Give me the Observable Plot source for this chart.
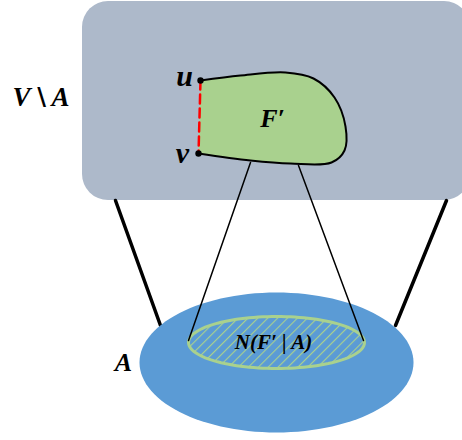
<!DOCTYPE html>
<html><head><meta charset="utf-8">
<script src="https://cdn.jsdelivr.net/npm/d3@7"></script>
<script src="https://cdn.jsdelivr.net/npm/@observablehq/plot@0.6"></script>
<style>body{margin:0;background:#fff}</style>
</head><body><div id="chart"></div>
<script>
const outerRegion = [{x1: 82, y1: 1, x2: 470, y2: 200}];
const faceOutline = [[200,80],[240,75],[285,72],[313,78],[334,97],[345,126],[344,150],[331,162],[290,163],[250,160],[198,153]];
const faceEdge = [[200,80],[198,153]];
const vertices = [{label:"u", x:200, y:80, lx:184, ly:76}, {label:"v", x:198, y:153, lx:182, ly:153}];
const connectors = [[[250,162],[188,340]], [[298,165],[363,340]]];
const thickConnectors = [[[115,200],[160,325]], [[446,200],[395,325]]];
const ellipses = [{name:"A", cx:276, cy:362, rx:137, ry:70}, {name:"N", cx:276, cy:342, rx:88, ry:26}];
const labels = [
  {text:"V", x:21, y:97, size:27, italic:true},
  {text:"\\", x:41, y:97, size:24, italic:false},
  {text:"A", x:60, y:97, size:27, italic:true},
  {text:"F′", x:272, y:118, size:26, italic:true},
  {text:"N(F′ | A)", x:273, y:342, size:21, italic:true},
  {text:"A", x:123, y:362, size:26, italic:true}
];

function ellipsePts(e) {
  const pts = [];
  for (let i = 0; i <= 120; i++) {
    const t = (i / 120) * 2 * Math.PI;
    pts.push([e.cx + e.rx * Math.cos(t), e.cy + e.ry * Math.sin(t)]);
  }
  return pts;
}
const outerE = ellipsePts(ellipses[0]);
const innerE = ellipsePts(ellipses[1]);

const font = "Liberation Serif";
const plot = Plot.plot({
  width: 462, height: 440,
  margin: 0,
  x: {domain: [0, 462], range: [0, 462], axis: null},
  y: {domain: [0, 440], range: [0, 440], axis: null},
  marks: [
    Plot.rect(outerRegion, {x1:"x1", y1:"y1", x2:"x2", y2:"y2", fill:"#adb9ca", rx: 26}),
    ...thickConnectors.map(c => Plot.line(c, {x: d=>d[0], y: d=>d[1], stroke:"black", strokeWidth:3.5})),
    Plot.line(outerE, {x: d=>d[0], y: d=>d[1], fill:"#5b9bd5", stroke:"none"}),
    Plot.line(innerE, {x: d=>d[0], y: d=>d[1], fill:"url(#hatch)", stroke:"#a9d18e", strokeWidth:3}),
    ...connectors.map(c => Plot.line(c, {x: d=>d[0], y: d=>d[1], stroke:"black", strokeWidth:1.5})),
    Plot.line(faceOutline, {x: d=>d[0], y: d=>d[1], curve:"catmull-rom", fill:"#a9d18e", stroke:"black", strokeWidth:2}),
    Plot.line(faceEdge, {x: d=>d[0], y: d=>d[1], stroke:"#ff0000", strokeWidth:2.5, strokeDasharray:"9,5"}),
    Plot.dot(vertices, {x:"x", y:"y", r:3.2, fill:"black"}),
    Plot.text(vertices, {x:"lx", y:"ly", text:"label", fontSize:30, fontWeight:"bold", fontStyle:"italic", fontFamily:font, fill:"black"}),
    Plot.text(labels.filter(d => d.italic), {x:"x", y:"y", text:"text", fontSize:d=>d.size, fontWeight:"bold", fontStyle:"italic", fontFamily:font, fill:"black"}),
    Plot.text(labels.filter(d => !d.italic), {x:"x", y:"y", text:"text", fontSize:d=>d.size, fontWeight:"bold", fontFamily:"DejaVu Serif", fill:"black"})
  ]
});
const svg = d3.select(plot);
const defs = svg.insert("defs", ":first-child");
const pat = defs.append("pattern").attr("id","hatch").attr("patternUnits","userSpaceOnUse")
  .attr("width",7).attr("height",7).attr("patternTransform","rotate(45)");
pat.append("rect").attr("width",7).attr("height",7).attr("fill","#5b9bd5");
pat.append("line").attr("x1",0).attr("y1",0).attr("x2",0).attr("y2",7).attr("stroke","#a9d18e").attr("stroke-width",2.2);
document.getElementById("chart").append(plot);
</script></body></html>
